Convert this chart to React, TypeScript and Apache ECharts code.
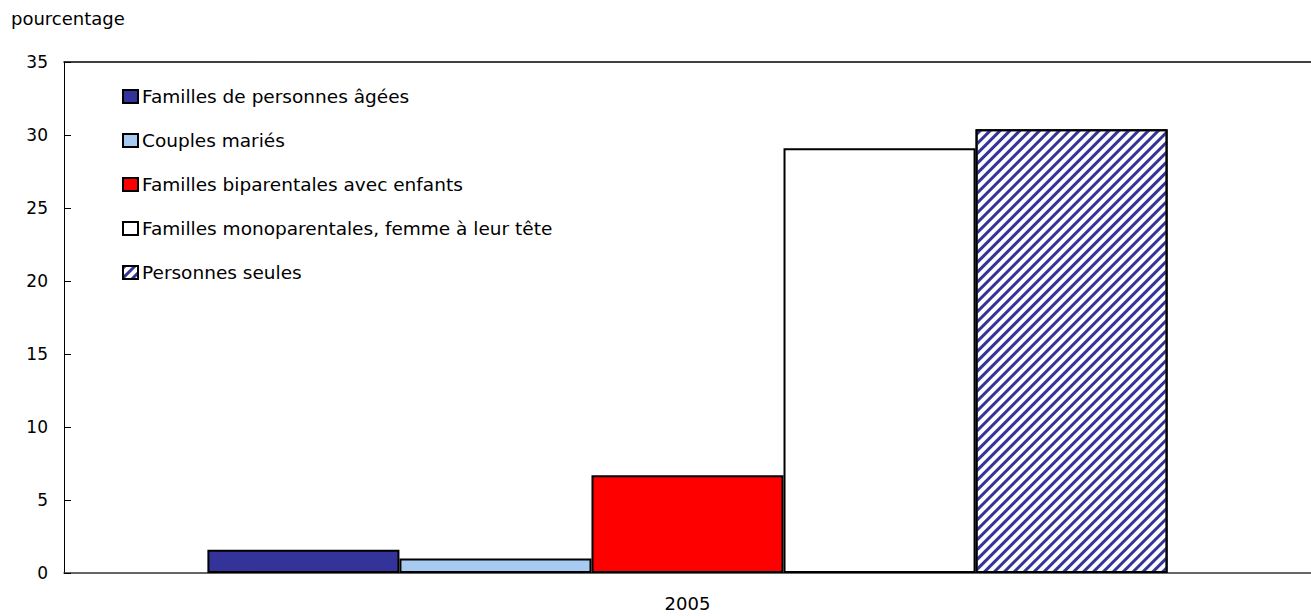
import React, { useEffect, useRef } from "react";
import * as echarts from "echarts";

const categories = ["2005"];
const seriesNames = [
  "Familles de personnes âgées",
  "Couples mariés",
  "Familles biparentales avec enfants",
  "Familles monoparentales, femme à leur tête",
  "Personnes seules",
];
const seriesValues = [1.6, 1.0, 6.7, 29.1, 30.4];
const seriesColors = ["#333399", "#a6caf0", "#ff0000", "#ffffff", "#ffffff"];
const yTicks = { min: 0, max: 35, interval: 5 };
const yAxisTitle = "pourcentage";

const FONT = "DejaVu Sans";

export default function App() {
  const ref = useRef<HTMLDivElement>(null);
  useEffect(() => {
    if (!ref.current) return;
    const chart = echarts.init(ref.current, undefined, { renderer: "svg" });
    const series = seriesNames.map((name, i) => ({
      name,
      type: "bar",
      xAxisIndex: 0,
      barGap: "0%",
      barCategoryGap: "23%",
      data: [seriesValues[i]],
      itemStyle: {
        color: seriesColors[i],
        borderColor: "#000000",
        borderWidth: 2,
        decal:
          i === 4
            ? {
                symbol: "rect",
                symbolSize: 1,
                dashArrayX: [1, 0],
                dashArrayY: [3, 4],
                rotation: -Math.PI / 4,
                color: "#333399",
              }
            : undefined,
      },
    }));
    chart.setOption({
      animation: false,
      backgroundColor: "#ffffff",
      textStyle: { fontFamily: FONT },
      grid: { left: 64, right: 0, top: 62, bottom: 43, containLabel: false },
      legend: {
        orient: "vertical",
        left: 122,
        top: 87,
        padding: 0,
        icon: "rect",
        itemWidth: 15,
        itemHeight: 13,
        itemGap: 25,
        selectedMode: false,
        data: seriesNames,
        textStyle: { fontFamily: FONT, fontSize: 18.5, color: "#000", lineHeight: 18, padding: [0, 0, 0, -1] },
      },
      graphic: [
        {
          type: "text",
          left: 11,
          top: 9,
          style: { text: yAxisTitle, fontFamily: FONT, fontSize: 18, fill: "#000" },
        },
      ],
      xAxis: [
        {
          type: "category",
          data: categories,
          position: "bottom",
          axisLine: { show: true, lineStyle: { color: "#333333", width: 1.5 } },
          axisTick: { show: false },
          axisLabel: { fontFamily: FONT, fontSize: 18, color: "#000", margin: 21 },
        },
        {
          type: "category",
          data: categories,
          position: "top",
          axisLine: { show: true, lineStyle: { color: "#000000", width: 1.5 } },
          axisTick: { show: false },
          axisLabel: { show: false },
        },
      ],
      yAxis: {
        type: "value",
        min: yTicks.min,
        max: yTicks.max,
        interval: yTicks.interval,
        axisLine: { show: true, lineStyle: { color: "#000000", width: 1 } },
        axisTick: { show: true, inside: true, length: 7, lineStyle: { color: "#000000" } },
        splitLine: { show: false },
        axisLabel: { fontFamily: FONT, fontSize: 17, color: "#000", margin: 16 },
      },
      series,
    });
    return () => chart.dispose();
  }, []);
  return (
    <div
      ref={ref}
      style={{ position: "absolute", left: 0, top: 0, width: 1311, height: 616 }}
    />
  );
}
